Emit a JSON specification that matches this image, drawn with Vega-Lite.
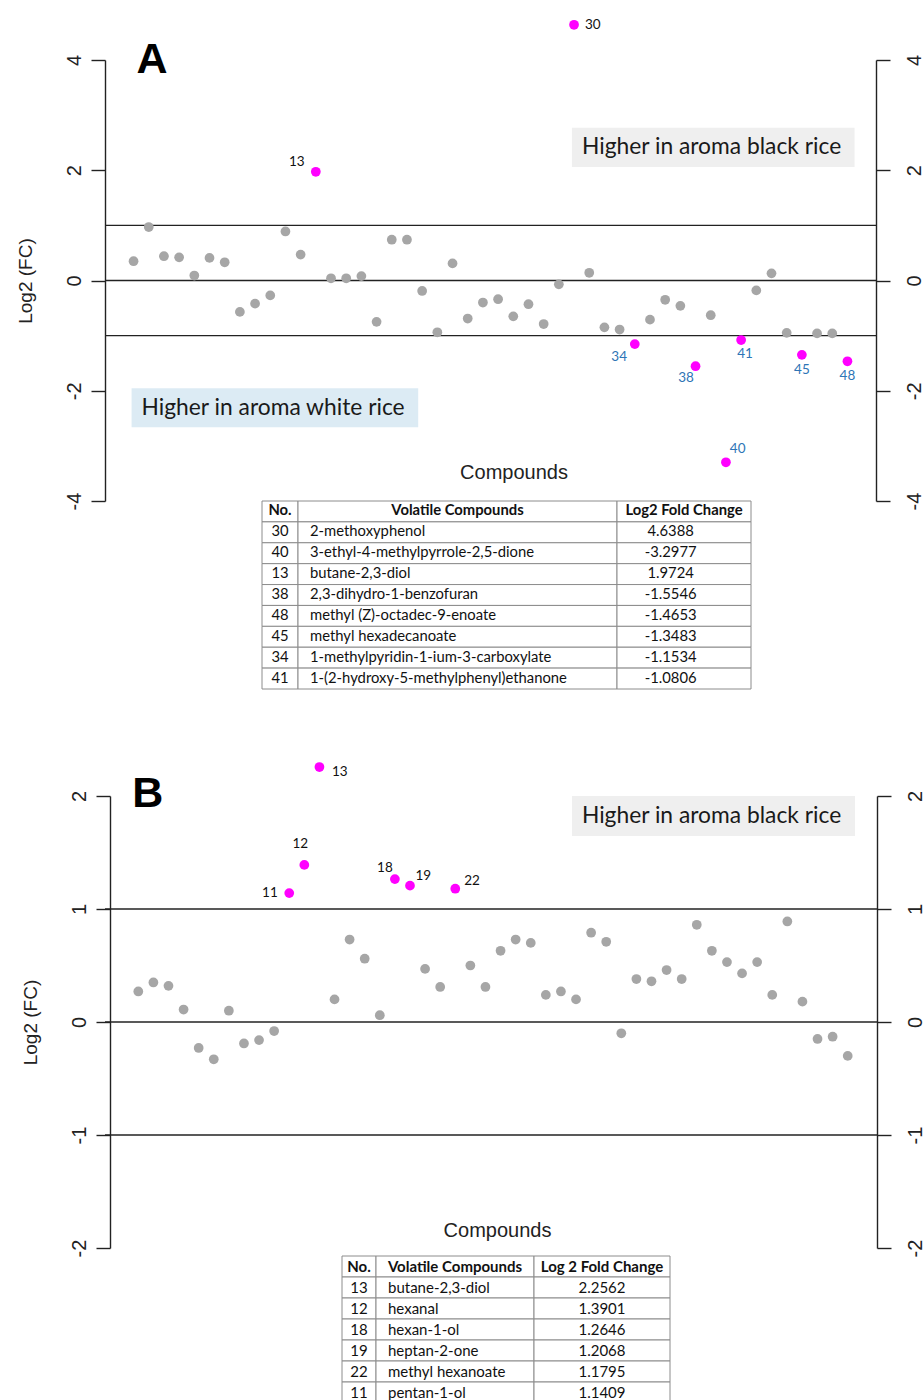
{
  "$schema": "https://vega.github.io/schema/vega-lite/v6.json",
  "background": "white",
  "padding": {"left": 16, "top": 17, "right": 0, "bottom": 0},
  "config": {"view": {"stroke": null}},
  "datasets": {
    "A": [
      {"i":1,"fc":0.35},{"i":2,"fc":0.97},{"i":3,"fc":0.44},{"i":4,"fc":0.42},{"i":5,"fc":0.09},{"i":6,"fc":0.41},
      {"i":7,"fc":0.33},{"i":8,"fc":-0.57},{"i":9,"fc":-0.42},{"i":10,"fc":-0.27},{"i":11,"fc":0.89},{"i":12,"fc":0.47},
      {"i":13,"fc":1.9724},{"i":14,"fc":0.04},{"i":15,"fc":0.04},{"i":16,"fc":0.08},{"i":17,"fc":-0.75},{"i":18,"fc":0.74},
      {"i":19,"fc":0.74},{"i":20,"fc":-0.19},{"i":21,"fc":-0.94},{"i":22,"fc":0.31},{"i":23,"fc":-0.69},{"i":24,"fc":-0.40},
      {"i":25,"fc":-0.34},{"i":26,"fc":-0.65},{"i":27,"fc":-0.43},{"i":28,"fc":-0.79},{"i":29,"fc":-0.07},{"i":30,"fc":4.6388},
      {"i":31,"fc":0.14},{"i":32,"fc":-0.85},{"i":33,"fc":-0.89},{"i":34,"fc":-1.1534},{"i":35,"fc":-0.71},{"i":36,"fc":-0.35},
      {"i":37,"fc":-0.46},{"i":38,"fc":-1.5546},{"i":39,"fc":-0.63},{"i":40,"fc":-3.2977},{"i":41,"fc":-1.0806},{"i":42,"fc":-0.18},
      {"i":43,"fc":0.13},{"i":44,"fc":-0.95},{"i":45,"fc":-1.3483},{"i":46,"fc":-0.96},{"i":47,"fc":-0.96},{"i":48,"fc":-1.4653}
    ],
    "B": [
      {"i":1,"fc":0.27},{"i":2,"fc":0.35},{"i":3,"fc":0.32},{"i":4,"fc":0.11},{"i":5,"fc":-0.23},{"i":6,"fc":-0.33},
      {"i":7,"fc":0.10},{"i":8,"fc":-0.19},{"i":9,"fc":-0.16},{"i":10,"fc":-0.08},{"i":11,"fc":1.1409},{"i":12,"fc":1.3901},
      {"i":13,"fc":2.2562},{"i":14,"fc":0.20},{"i":15,"fc":0.73},{"i":16,"fc":0.56},{"i":17,"fc":0.06},{"i":18,"fc":1.2646},
      {"i":19,"fc":1.2068},{"i":20,"fc":0.47},{"i":21,"fc":0.31},{"i":22,"fc":1.1795},{"i":23,"fc":0.50},{"i":24,"fc":0.31},
      {"i":25,"fc":0.63},{"i":26,"fc":0.73},{"i":27,"fc":0.70},{"i":28,"fc":0.24},{"i":29,"fc":0.27},{"i":30,"fc":0.20},
      {"i":31,"fc":0.79},{"i":32,"fc":0.71},{"i":33,"fc":-0.10},{"i":34,"fc":0.38},{"i":35,"fc":0.36},{"i":36,"fc":0.46},
      {"i":37,"fc":0.38},{"i":38,"fc":0.86},{"i":39,"fc":0.63},{"i":40,"fc":0.53},{"i":41,"fc":0.43},{"i":42,"fc":0.53},
      {"i":43,"fc":0.24},{"i":44,"fc":0.89},{"i":45,"fc":0.18},{"i":46,"fc":-0.15},{"i":47,"fc":-0.13},{"i":48,"fc":-0.30}
    ],
    "tableA": [
      {"no":"No.","name":"Volatile Compounds","fc":"Log2 Fold Change"},
      {"no":"30","name":"2-methoxyphenol","fc":"4.6388"},
      {"no":"40","name":"3-ethyl-4-methylpyrrole-2,5-dione","fc":"-3.2977"},
      {"no":"13","name":"butane-2,3-diol","fc":"1.9724"},
      {"no":"38","name":"2,3-dihydro-1-benzofuran","fc":"-1.5546"},
      {"no":"48","name":"methyl (Z)-octadec-9-enoate","fc":"-1.4653"},
      {"no":"45","name":"methyl hexadecanoate","fc":"-1.3483"},
      {"no":"34","name":"1-methylpyridin-1-ium-3-carboxylate","fc":"-1.1534"},
      {"no":"41","name":"1-(2-hydroxy-5-methylphenyl)ethanone","fc":"-1.0806"}
    ],
    "tableB": [
      {"no":"No.","name":"Volatile Compounds","fc":"Log 2 Fold Change"},
      {"no":"13","name":"butane-2,3-diol","fc":"2.2562"},
      {"no":"12","name":"hexanal","fc":"1.3901"},
      {"no":"18","name":"hexan-1-ol","fc":"1.2646"},
      {"no":"19","name":"heptan-2-one","fc":"1.2068"},
      {"no":"22","name":"methyl hexanoate","fc":"1.1795"},
      {"no":"11","name":"pentan-1-ol","fc":"1.1409"}
    ]
  },
  "spacing": 72,
  "vconcat": [
    {
      "spacing": 0,
      "bounds": "flush",
      "vconcat": [
        {
          "width": 771, "height": 441,
          "data": {"name": "A"},
          "resolve": {"axis": {"y": "independent"}},
          "layer": [
            {"data": {"values": [{"t": -1}, {"t": 0}, {"t": 1}]},
             "mark": {"type": "rule", "color": "#222222", "strokeWidth": 1.4},
             "encoding": {"y": {"field": "t", "type": "quantitative", "scale": {"domain": [-4, 4], "nice": false, "zero": false},
               "axis": {"orient": "left", "values": [-4, -2, 0, 2, 4], "labelExpr": "'' + datum.value", "grid": false,
                 "tickSize": 14, "tickWidth": 1.4, "tickColor": "#222222", "domainColor": "#222222", "domainWidth": 1.4,
                 "labelAngle": -90, "labelFont": "Liberation Sans", "labelFontSize": 20, "labelColor": "#222222", "labelPadding": 7,
                 "title": "Log2 (FC)", "titleFont": "Liberation Sans", "titleFontSize": 19, "titleFontWeight": "normal", "titleColor": "#222222", "titlePadding": 29}}}},
            {"data": {"values": [{}]},
             "mark": {"type": "rect", "fill": "#efefef"},
             "encoding": {"x": {"datum": 29.86, "type": "quantitative", "scale": {"domain": [-0.88, 49.88], "nice": false, "zero": false}, "axis": null}, "x2": {"datum": 48.47},
               "y": {"datum": 2.06, "type": "quantitative", "axis": null}, "y2": {"datum": 2.77}}},
            {"data": {"values": [{}]},
             "mark": {"type": "rect", "fill": "#dcebf4"},
             "encoding": {"x": {"datum": 0.87, "type": "quantitative", "axis": null}, "x2": {"datum": 19.74},
               "y": {"datum": -1.955, "type": "quantitative", "axis": null}, "y2": {"datum": -2.661}}},
            {"data": {"values": [{}]},
             "mark": {"type": "text", "text": "Higher in aroma black rice", "font": "Lato", "fontSize": 22.8, "color": "#1a1a1a", "align": "left", "baseline": "middle"},
             "encoding": {"x": {"datum": 30.52, "type": "quantitative", "axis": null}, "y": {"datum": 2.416, "type": "quantitative", "axis": null}}},
            {"data": {"values": [{}]},
             "mark": {"type": "text", "text": "Higher in aroma white rice", "font": "Lato", "fontSize": 22.8, "color": "#1a1a1a", "align": "left", "baseline": "middle"},
             "encoding": {"x": {"datum": 1.526, "type": "quantitative", "axis": null}, "y": {"datum": -2.308, "type": "quantitative", "axis": null}}},
            {"data": {"values": [{}]},
             "mark": {"type": "text", "text": "A", "font": "Liberation Sans", "fontWeight": "bold", "fontSize": 43, "color": "black", "align": "left", "baseline": "alphabetic"},
             "encoding": {"x": {"datum": 1.2, "type": "quantitative", "axis": null}, "y": {"datum": 3.765, "type": "quantitative", "axis": null}}},
            {"data": {"values": [{}]},
             "mark": {"type": "text", "text": "Compounds", "font": "Liberation Sans", "fontSize": 20, "color": "#222222", "align": "center", "baseline": "alphabetic"},
             "encoding": {"x": {"datum": 26.05, "type": "quantitative", "axis": null}, "y": {"datum": -3.6, "type": "quantitative", "axis": null}}},
            {"transform": [{"filter": {"field": "i", "oneOf": [13]}}],
             "mark": {"type": "text", "font": "Lato", "fontSize": 13.5, "color": "#111111", "dx": -19, "dy": -10},
             "encoding": {"x": {"field": "i", "type": "quantitative", "axis": null}, "y": {"field": "fc", "type": "quantitative", "axis": null}, "text": {"field": "i"}}},
            {"transform": [{"filter": {"field": "i", "oneOf": [30]}}],
             "mark": {"type": "text", "font": "Lato", "fontSize": 13.5, "color": "#111111", "align": "left", "dx": 11, "dy": 0},
             "encoding": {"x": {"field": "i", "type": "quantitative", "axis": null}, "y": {"field": "fc", "type": "quantitative", "axis": null}, "text": {"field": "i"}}},
            {"transform": [{"filter": {"field": "i", "oneOf": [34]}}],
             "mark": {"type": "text", "font": "Lato", "fontSize": 13.5, "color": "#2e75b6", "dx": -15.6, "dy": 13},
             "encoding": {"x": {"field": "i", "type": "quantitative", "axis": null}, "y": {"field": "fc", "type": "quantitative", "axis": null}, "text": {"field": "i"}}},
            {"transform": [{"filter": {"field": "i", "oneOf": [38]}}],
             "mark": {"type": "text", "font": "Lato", "fontSize": 13.5, "color": "#2e75b6", "dx": -9.6, "dy": 12.3},
             "encoding": {"x": {"field": "i", "type": "quantitative", "axis": null}, "y": {"field": "fc", "type": "quantitative", "axis": null}, "text": {"field": "i"}}},
            {"transform": [{"filter": {"field": "i", "oneOf": [41]}}],
             "mark": {"type": "text", "font": "Lato", "fontSize": 13.5, "color": "#2e75b6", "dx": 4, "dy": 14.3},
             "encoding": {"x": {"field": "i", "type": "quantitative", "axis": null}, "y": {"field": "fc", "type": "quantitative", "axis": null}, "text": {"field": "i"}}},
            {"transform": [{"filter": {"field": "i", "oneOf": [45, 48]}}],
             "mark": {"type": "text", "font": "Lato", "fontSize": 13.5, "color": "#2e75b6", "dx": 0, "dy": 14.7},
             "encoding": {"x": {"field": "i", "type": "quantitative", "axis": null}, "y": {"field": "fc", "type": "quantitative", "axis": null}, "text": {"field": "i"}}},
            {"transform": [{"filter": {"field": "i", "oneOf": [40]}}],
             "mark": {"type": "text", "font": "Lato", "fontSize": 13.5, "color": "#2e75b6", "dx": 11.7, "dy": -13.3},
             "encoding": {"x": {"field": "i", "type": "quantitative", "axis": null}, "y": {"field": "fc", "type": "quantitative", "axis": null}, "text": {"field": "i"}}},
            {"mark": {"type": "circle", "size": 95, "opacity": 1},
             "encoding": {
               "x": {"field": "i", "type": "quantitative", "scale": {"domain": [-0.88, 49.88], "nice": false, "zero": false}, "axis": null},
               "y": {"field": "fc", "type": "quantitative", "scale": {"domain": [-4, 4], "nice": false, "zero": false},
                 "axis": {"orient": "right", "values": [-4, -2, 0, 2, 4], "labelExpr": "'' + datum.value", "grid": false,
                   "tickSize": 14, "tickWidth": 1.4, "tickColor": "#222222", "domainColor": "#222222", "domainWidth": 1.4,
                   "labelAngle": -90, "labelFont": "Liberation Sans", "labelFontSize": 20, "labelColor": "#222222", "labelPadding": 14, "title": null}},
               "color": {"condition": {"test": "abs(datum.fc) > 1", "value": "#ff00ff"}, "value": "#a6a6a6"}}}
          ]
        },
        {
          "spacing": 0,
          "bounds": "flush",
          "hconcat": [
            {"width": 157, "height": 1, "data": {"values": []}, "mark": "point"},
            {
              "width": 36, "height": 188, "data": {"name": "tableA"},
              "layer": [
                {"mark": {"type": "rect", "fill": "white", "stroke": "#8c8c8c", "strokeWidth": 1},
                 "encoding": {"y": {"field": "no", "type": "nominal", "sort": null, "scale": {"paddingInner": 0, "paddingOuter": 0}, "axis": null}}},
                {"transform": [{"filter": "datum.no === 'No.'"}],
                 "mark": {"type": "text", "font": "Lato", "fontSize": 14.8, "fontWeight": "bold", "color": "#111111"},
                 "encoding": {"y": {"field": "no", "type": "nominal", "sort": null, "axis": null}, "text": {"field": "no"}}},
                {"transform": [{"filter": "datum.no !== 'No.'"}],
                 "mark": {"type": "text", "font": "Lato", "fontSize": 14.8, "color": "#111111"},
                 "encoding": {"y": {"field": "no", "type": "nominal", "sort": null, "axis": null}, "text": {"field": "no"}}}
              ]
            },
            {
              "width": 319, "height": 188, "data": {"name": "tableA"},
              "layer": [
                {"mark": {"type": "rect", "fill": "white", "stroke": "#8c8c8c", "strokeWidth": 1},
                 "encoding": {"y": {"field": "no", "type": "nominal", "sort": null, "scale": {"paddingInner": 0, "paddingOuter": 0}, "axis": null}}},
                {"transform": [{"filter": "datum.no === 'No.'"}],
                 "mark": {"type": "text", "font": "Lato", "fontSize": 14.8, "fontWeight": "bold", "color": "#111111"},
                 "encoding": {"y": {"field": "no", "type": "nominal", "sort": null, "axis": null}, "text": {"field": "name"}}},
                {"transform": [{"filter": "datum.no !== 'No.'"}],
                 "mark": {"type": "text", "font": "Lato", "fontSize": 14.8, "color": "#111111", "align": "left", "dx": 12},
                 "encoding": {"x": {"datum": 0, "type": "quantitative", "scale": {"domain": [0, 1]}, "axis": null},
                   "y": {"field": "no", "type": "nominal", "sort": null, "axis": null}, "text": {"field": "name"}}}
              ]
            },
            {
              "width": 134, "height": 188, "data": {"name": "tableA"},
              "layer": [
                {"mark": {"type": "rect", "fill": "white", "stroke": "#8c8c8c", "strokeWidth": 1},
                 "encoding": {"y": {"field": "no", "type": "nominal", "sort": null, "scale": {"paddingInner": 0, "paddingOuter": 0}, "axis": null}}},
                {"transform": [{"filter": "datum.no === 'No.'"}],
                 "mark": {"type": "text", "font": "Lato", "fontSize": 14.8, "fontWeight": "bold", "color": "#111111"},
                 "encoding": {"y": {"field": "no", "type": "nominal", "sort": null, "axis": null}, "text": {"field": "fc"}}},
                {"transform": [{"filter": "datum.no !== 'No.'"}],
                 "mark": {"type": "text", "font": "Lato", "fontSize": 14.8, "color": "#111111"},
                 "encoding": {"x": {"datum": 0.4, "type": "quantitative", "scale": {"domain": [0, 1]}, "axis": null},
                   "y": {"field": "no", "type": "nominal", "sort": null, "axis": null}, "text": {"field": "fc"}}}
              ]
            }
          ]
        }
      ]
    },
    {
      "spacing": 8,
      "bounds": "flush",
      "vconcat": [
        {
          "width": 772, "height": 452,
          "data": {"name": "B"},
          "resolve": {"axis": {"y": "independent"}},
          "layer": [
            {"data": {"values": [{"t": -1}, {"t": 0}, {"t": 1}]},
             "mark": {"type": "rule", "color": "#222222", "strokeWidth": 1.4},
             "encoding": {"y": {"field": "t", "type": "quantitative", "scale": {"domain": [-2, 2], "nice": false, "zero": false},
               "axis": {"orient": "left", "offset": -5, "values": [-2, -1, 0, 1, 2], "labelExpr": "'' + datum.value", "grid": false,
                 "tickSize": 14, "tickWidth": 1.4, "tickColor": "#222222", "domainColor": "#222222", "domainWidth": 1.4,
                 "labelAngle": -90, "labelFont": "Liberation Sans", "labelFontSize": 20, "labelColor": "#222222", "labelPadding": 7,
                 "title": "Log2 (FC)", "titleFont": "Liberation Sans", "titleFontSize": 19, "titleFontWeight": "normal", "titleColor": "#222222", "titlePadding": 29}}}},
            {"data": {"values": [{}]},
             "mark": {"type": "rect", "fill": "#efefef"},
             "encoding": {"x": {"datum": 29.73, "type": "quantitative", "scale": {"domain": [-1.206, 49.94], "nice": false, "zero": false}, "axis": null}, "x2": {"datum": 48.48},
               "y": {"datum": 1.645, "type": "quantitative", "axis": null}, "y2": {"datum": 2.0}}},
            {"data": {"values": [{}]},
             "mark": {"type": "text", "text": "Higher in aroma black rice", "font": "Lato", "fontSize": 22.8, "color": "#1a1a1a", "align": "left", "baseline": "middle"},
             "encoding": {"x": {"datum": 30.39, "type": "quantitative", "axis": null}, "y": {"datum": 1.823, "type": "quantitative", "axis": null}}},
            {"data": {"values": [{}]},
             "mark": {"type": "text", "text": "B", "font": "Liberation Sans", "fontWeight": "bold", "fontSize": 43, "color": "black", "align": "left", "baseline": "alphabetic"},
             "encoding": {"x": {"datum": 0.6, "type": "quantitative", "axis": null}, "y": {"datum": 1.9, "type": "quantitative", "axis": null}}},
            {"data": {"values": [{}]},
             "mark": {"type": "text", "text": "Compounds", "font": "Liberation Sans", "fontSize": 20, "color": "#222222", "align": "center", "baseline": "alphabetic"},
             "encoding": {"x": {"datum": 24.8, "type": "quantitative", "axis": null}, "y": {"datum": -1.907, "type": "quantitative", "axis": null}}},
            {"transform": [{"filter": {"field": "i", "oneOf": [13]}}],
             "mark": {"type": "text", "font": "Lato", "fontSize": 13.5, "color": "#111111", "dx": 20.3, "dy": 5},
             "encoding": {"x": {"field": "i", "type": "quantitative", "axis": null}, "y": {"field": "fc", "type": "quantitative", "axis": null}, "text": {"field": "i"}}},
            {"transform": [{"filter": {"field": "i", "oneOf": [12]}}],
             "mark": {"type": "text", "font": "Lato", "fontSize": 13.5, "color": "#111111", "dx": -4, "dy": -21.3},
             "encoding": {"x": {"field": "i", "type": "quantitative", "axis": null}, "y": {"field": "fc", "type": "quantitative", "axis": null}, "text": {"field": "i"}}},
            {"transform": [{"filter": {"field": "i", "oneOf": [11]}}],
             "mark": {"type": "text", "font": "Lato", "fontSize": 13.5, "color": "#111111", "dx": -19.3, "dy": 0},
             "encoding": {"x": {"field": "i", "type": "quantitative", "axis": null}, "y": {"field": "fc", "type": "quantitative", "axis": null}, "text": {"field": "i"}}},
            {"transform": [{"filter": {"field": "i", "oneOf": [18]}}],
             "mark": {"type": "text", "font": "Lato", "fontSize": 13.5, "color": "#111111", "dx": -10, "dy": -11},
             "encoding": {"x": {"field": "i", "type": "quantitative", "axis": null}, "y": {"field": "fc", "type": "quantitative", "axis": null}, "text": {"field": "i"}}},
            {"transform": [{"filter": {"field": "i", "oneOf": [19]}}],
             "mark": {"type": "text", "font": "Lato", "fontSize": 13.5, "color": "#111111", "dx": 13.3, "dy": -9.4},
             "encoding": {"x": {"field": "i", "type": "quantitative", "axis": null}, "y": {"field": "fc", "type": "quantitative", "axis": null}, "text": {"field": "i"}}},
            {"transform": [{"filter": {"field": "i", "oneOf": [22]}}],
             "mark": {"type": "text", "font": "Lato", "fontSize": 13.5, "color": "#111111", "dx": 16.7, "dy": -7.7},
             "encoding": {"x": {"field": "i", "type": "quantitative", "axis": null}, "y": {"field": "fc", "type": "quantitative", "axis": null}, "text": {"field": "i"}}},
            {"mark": {"type": "circle", "size": 95, "opacity": 1},
             "encoding": {
               "x": {"field": "i", "type": "quantitative", "scale": {"domain": [-1.206, 49.94], "nice": false, "zero": false}, "axis": null},
               "y": {"field": "fc", "type": "quantitative", "scale": {"domain": [-2, 2], "nice": false, "zero": false},
                 "axis": {"orient": "right", "values": [-2, -1, 0, 1, 2], "labelExpr": "'' + datum.value", "grid": false,
                   "tickSize": 14, "tickWidth": 1.4, "tickColor": "#222222", "domainColor": "#222222", "domainWidth": 1.4,
                   "labelAngle": -90, "labelFont": "Liberation Sans", "labelFontSize": 20, "labelColor": "#222222", "labelPadding": 14, "title": null}},
               "color": {"condition": {"test": "abs(datum.fc) > 1", "value": "#ff00ff"}, "value": "#a6a6a6"}}}
          ]
        },
        {
          "spacing": 0,
          "bounds": "flush",
          "hconcat": [
            {"width": 237, "height": 1, "data": {"values": []}, "mark": "point"},
            {
              "width": 34, "height": 147, "data": {"name": "tableB"},
              "layer": [
                {"mark": {"type": "rect", "fill": "white", "stroke": "#8c8c8c", "strokeWidth": 1},
                 "encoding": {"y": {"field": "no", "type": "nominal", "sort": null, "scale": {"paddingInner": 0, "paddingOuter": 0}, "axis": null}}},
                {"transform": [{"filter": "datum.no === 'No.'"}],
                 "mark": {"type": "text", "font": "Lato", "fontSize": 15, "fontWeight": "bold", "color": "#111111"},
                 "encoding": {"y": {"field": "no", "type": "nominal", "sort": null, "axis": null}, "text": {"field": "no"}}},
                {"transform": [{"filter": "datum.no !== 'No.'"}],
                 "mark": {"type": "text", "font": "Lato", "fontSize": 15, "color": "#111111"},
                 "encoding": {"y": {"field": "no", "type": "nominal", "sort": null, "axis": null}, "text": {"field": "no"}}}
              ]
            },
            {
              "width": 158, "height": 147, "data": {"name": "tableB"},
              "layer": [
                {"mark": {"type": "rect", "fill": "white", "stroke": "#8c8c8c", "strokeWidth": 1},
                 "encoding": {"y": {"field": "no", "type": "nominal", "sort": null, "scale": {"paddingInner": 0, "paddingOuter": 0}, "axis": null}}},
                {"transform": [{"filter": "datum.no === 'No.'"}],
                 "mark": {"type": "text", "font": "Lato", "fontSize": 15, "fontWeight": "bold", "color": "#111111"},
                 "encoding": {"y": {"field": "no", "type": "nominal", "sort": null, "axis": null}, "text": {"field": "name"}}},
                {"transform": [{"filter": "datum.no !== 'No.'"}],
                 "mark": {"type": "text", "font": "Lato", "fontSize": 15, "color": "#111111", "align": "left", "dx": 12},
                 "encoding": {"x": {"datum": 0, "type": "quantitative", "scale": {"domain": [0, 1]}, "axis": null},
                   "y": {"field": "no", "type": "nominal", "sort": null, "axis": null}, "text": {"field": "name"}}}
              ]
            },
            {
              "width": 136, "height": 147, "data": {"name": "tableB"},
              "layer": [
                {"mark": {"type": "rect", "fill": "white", "stroke": "#8c8c8c", "strokeWidth": 1},
                 "encoding": {"y": {"field": "no", "type": "nominal", "sort": null, "scale": {"paddingInner": 0, "paddingOuter": 0}, "axis": null}}},
                {"transform": [{"filter": "datum.no === 'No.'"}],
                 "mark": {"type": "text", "font": "Lato", "fontSize": 15, "fontWeight": "bold", "color": "#111111"},
                 "encoding": {"y": {"field": "no", "type": "nominal", "sort": null, "axis": null}, "text": {"field": "fc"}}},
                {"transform": [{"filter": "datum.no !== 'No.'"}],
                 "mark": {"type": "text", "font": "Lato", "fontSize": 15, "color": "#111111"},
                 "encoding": {"y": {"field": "no", "type": "nominal", "sort": null, "axis": null}, "text": {"field": "fc"}}}
              ]
            }
          ]
        }
      ]
    }
  ]
}
